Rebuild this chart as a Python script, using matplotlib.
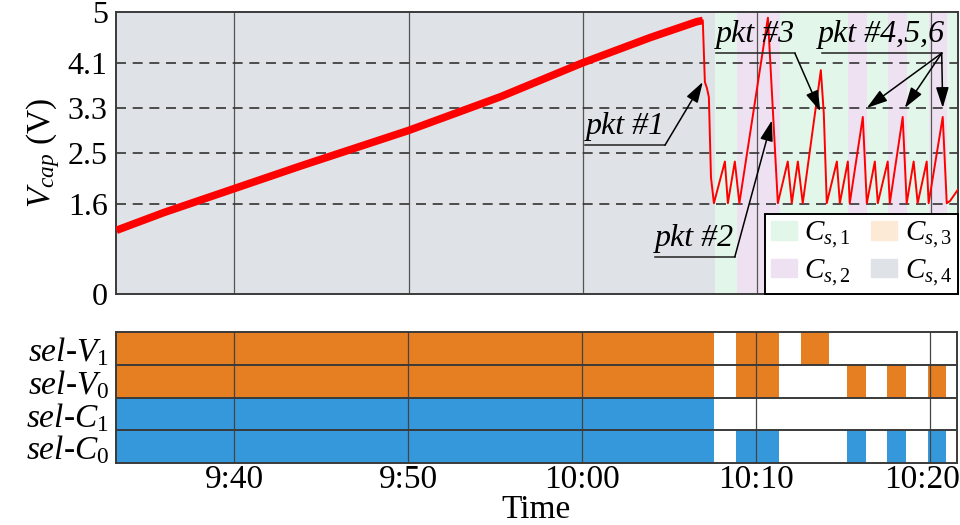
import matplotlib
matplotlib.use("Agg")
import matplotlib.pyplot as plt
from matplotlib.patches import Patch
from matplotlib.transforms import offset_copy

# ----------------------------- Data ------------------------------------------
# time axis in minutes after 9:00

RAMP_T = [33.23, 36.0, 40.0, 43.8, 50.0, 55.3, 60.0, 63.9, 66.56, 66.9]
RAMP_V = [1.13, 1.45, 1.87, 2.27, 2.9, 3.5, 4.1, 4.55, 4.83, 4.85]

TRACE_T = [66.9, 67.02, 67.14, 67.25, 67.37, 67.54, 68.17, 68.34, 68.74, 69.0,
           70.64, 71.21, 71.78, 72.01, 72.36, 72.64, 73.68, 73.85, 74.02,
           74.6, 74.77, 75.23, 75.34, 76.09, 76.32, 76.78, 76.95, 77.52, 77.64,
           78.38, 78.61, 79.01, 79.24, 79.76, 79.87, 80.68, 80.91, 81.1, 81.55]
TRACE_V = [4.85, 3.76, 3.65, 3.49, 2.07, 1.61, 2.35, 1.61, 2.35, 1.61,
           4.9, 1.61, 2.35, 1.61, 2.35, 1.61, 3.97, 3.2, 1.61,
           2.35, 1.61, 2.35, 1.61, 3.14, 1.61, 2.35, 1.61, 2.35, 1.61,
           3.14, 1.61, 2.35, 1.61, 2.35, 1.61, 3.14, 1.61, 1.65, 1.85]

X_MIN, X_MAX = 33.2, 81.55
SWITCH_T = 67.6

# capacitor bands (Cs,2) after switching; Cs,1 everywhere else after SWITCH_T
CS2_SPANS = [(68.86, 71.33), (75.23, 76.32), (77.52, 78.61), (79.87, 80.91)]

SEL_V1 = [(X_MIN, 67.6), (68.86, 71.33), (72.59, 74.2)]
SEL_V0 = [(X_MIN, 67.6), (68.86, 71.33), (75.23, 76.32), (77.52, 78.61), (79.87, 80.91)]
SEL_C1 = [(X_MIN, 67.6)]
SEL_C0 = [(X_MIN, 67.6), (68.86, 71.33), (75.23, 76.32), (77.52, 78.61), (79.87, 80.91)]

Y_TICKS = [0, 1.6, 2.5, 3.3, 4.1, 5]
Y_TICK_LABELS = ["0", "1.6", "2.5", "3.3", "4.1", "5"]
X_TICKS = [40, 50, 60, 70, 80]
X_TICK_LABELS = ["9:40", "9:50", "10:00", "10:10", "10:20"]
REF_LEVELS = [1.6, 2.5, 3.3, 4.1]

ROW_LABELS = [r"$sel$-$V_1$", r"$sel$-$V_0$", r"$sel$-$C_1$", r"$sel$-$C_0$"]

# ----------------------------- Style -----------------------------------------

C_GRAY = "#dfe2e6"
C_GREEN = "#e2f6ea"
C_PURPLE = "#eee2f2"
C_ORANGE_LIGHT = "#fcead6"
ORANGE = "#e67e22"
BLUE = "#3498db"
SPINE = "#3a3a3a"

plt.rcParams["font.family"] = ["Liberation Serif", "DejaVu Serif"]
plt.rcParams["mathtext.fontset"] = "custom"
plt.rcParams["mathtext.rm"] = "Liberation Serif"
plt.rcParams["mathtext.it"] = "Liberation Serif:italic"
FS = 23

fig = plt.figure(figsize=(9.6, 5.25), dpi=100)
ax = fig.add_axes([0.1208, 0.44, 0.877, 0.537])
ax2 = fig.add_axes([0.1208, 0.118, 0.876, 0.2496])

# ----------------------------- Top panel -------------------------------------

ax.set_xlim(X_MIN, X_MAX)
ax.set_ylim(0, 5)
ax.axvspan(X_MIN, SWITCH_T, color=C_GRAY, lw=0, zorder=0)
ax.axvspan(SWITCH_T, X_MAX, color=C_GREEN, lw=0, zorder=0)
for a, b in CS2_SPANS:
    ax.axvspan(a, b, color=C_PURPLE, lw=0, zorder=0)

for x in X_TICKS:
    ax.axvline(x, color="#555555", lw=0.9, zorder=1)
for y in REF_LEVELS:
    ax.axhline(y, color="#333333", lw=1.2, ls=(0, (6, 4)), zorder=1)

ax.plot(RAMP_T, RAMP_V, color="red", lw=5.5, solid_capstyle="butt", zorder=3)
ax.plot(TRACE_T, TRACE_V, color="red", lw=1.4, zorder=3)

ax.set_yticks(Y_TICKS)
ax.set_yticklabels(Y_TICK_LABELS, fontsize=FS)
ax.set_xticks([])
ax.tick_params(length=0, pad=6)
ax.set_ylabel(r"$V_{cap}$ (V)", fontsize=FS + 1, labelpad=4)
for s in ax.spines.values():
    s.set_color(SPINE)
    s.set_linewidth(1.4)

handles = [Patch(color=C_GREEN), Patch(color=C_PURPLE),
           Patch(color=C_ORANGE_LIGHT), Patch(color=C_GRAY)]
labels = [r"$C_{s,1}$", r"$C_{s,2}$", r"$C_{s,3}$", r"$C_{s,4}$"]
leg = ax.legend(handles, labels, loc="lower right", ncol=2, fontsize=21,
                frameon=True, fancybox=False, borderaxespad=0, framealpha=1,
                handlelength=0.9, handleheight=0.6, columnspacing=0.7,
                labelspacing=0.25, borderpad=0.2, handletextpad=0.25)
leg.get_frame().set_edgecolor("black")
leg.get_frame().set_linewidth(1.4)
leg.set_zorder(4)

# annotations: underline + arrow
arrow_kw = dict(arrowstyle="-|>,head_length=0.9,head_width=0.28", color="black",
                lw=1.1, mutation_scale=14, shrinkA=0, shrinkB=0)
line_kw = dict(color="#222222", lw=1.1, zorder=5)


def pkt_label(text, x0, x1, y, tips):
    ax.plot([x0, x1], [y, y], **line_kw)
    ax.text((x0 + x1) / 2, y + 0.07, text, fontsize=FS, style="italic",
            ha="center", va="bottom", zorder=6)
    for tx, ty in tips:
        ax.annotate("", xy=(tx, ty), xytext=(x1, y), arrowprops=arrow_kw, zorder=6)


pkt_label("pkt #1", 60.14, 64.73, 2.64, [(66.9, 3.76)])
pkt_label("pkt #2", 64.15, 68.74, 0.66, [(70.87, 3.08)])
pkt_label("pkt #3", 67.65, 72.19, 4.27, [(73.65, 3.24)])
pkt_label("pkt #4,5,6", 73.73, 80.62, 4.27, [(76.32, 3.30), (78.5, 3.30), (80.68, 3.30)])

# ----------------------------- Bottom panel ----------------------------------

ax2.set_xlim(X_MIN, X_MAX)
ax2.set_ylim(0, 4)
rows = [(SEL_V1, ORANGE), (SEL_V0, ORANGE), (SEL_C1, BLUE), (SEL_C0, BLUE)]
for i, (spans, col) in enumerate(rows):
    y0 = 3 - i
    ax2.broken_barh([(a, b - a) for a, b in spans], (y0, 1), facecolors=col, zorder=1)
for y in [1, 2, 3]:
    ax2.axhline(y, color=SPINE, lw=1.4, zorder=3)
for x in X_TICKS:
    ax2.axvline(x, color="#444444", lw=0.9, zorder=2)

ax2.set_yticks([3.5, 2.5, 1.5, 0.5])
ax2.set_yticklabels(ROW_LABELS, fontsize=FS + 1, style="italic")
ax2.set_xticks(X_TICKS)
ax2.set_xticklabels(X_TICK_LABELS, fontsize=FS + 1)
ax2.tick_params(length=0, pad=5)
ax2.tick_params(axis="x", pad=1)
ax2.set_xlabel("Time", fontsize=FS + 1, va="center")
ax2.xaxis.set_label_coords(0.5, -0.36)
for s in ax2.spines.values():
    s.set_color(SPINE)
    s.set_linewidth(1.4)

# keep the last time label inside the canvas
last = ax2.get_xticklabels()[-1]
last.set_transform(offset_copy(last.get_transform(), fig=fig, x=-8, units="dots"))

fig.savefig("out.png", dpi=100)
